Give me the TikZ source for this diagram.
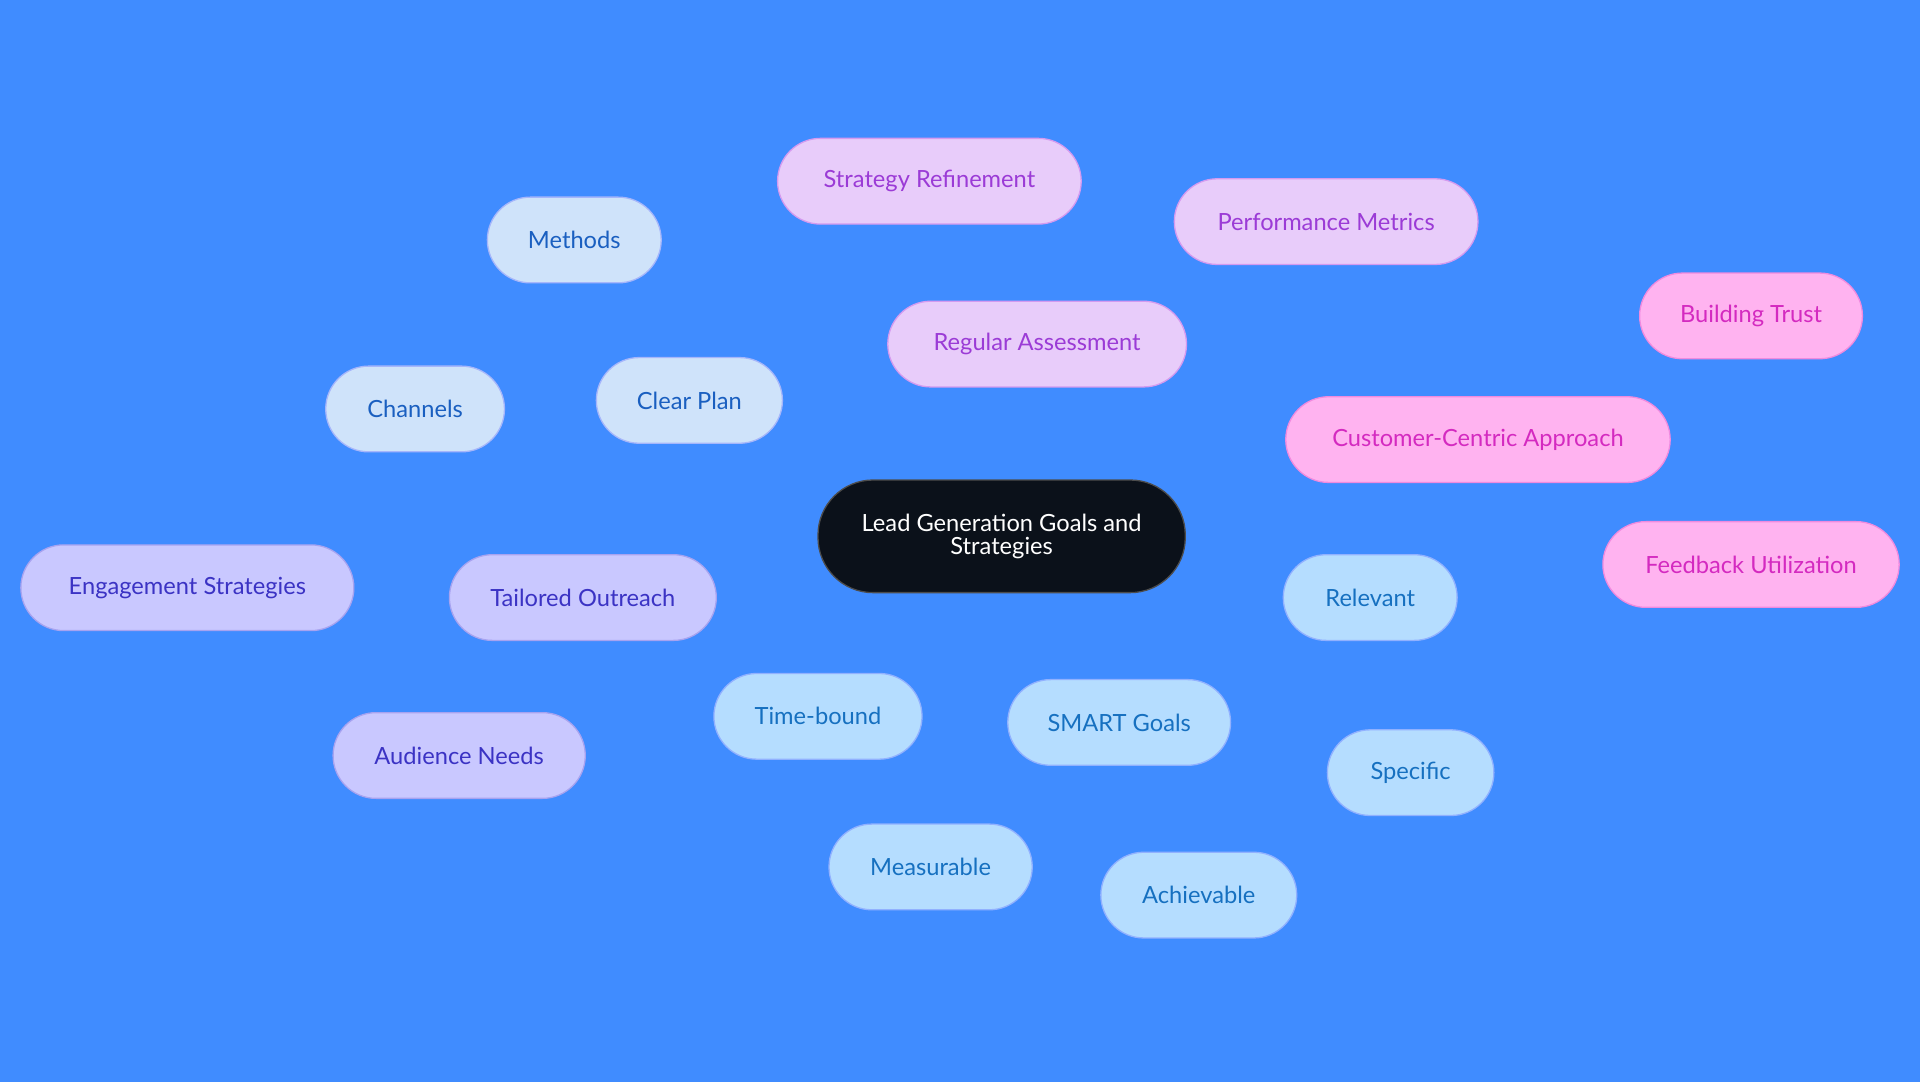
\documentclass[tikz,border=0pt]{standalone}
\usepackage{fontspec}
\setmainfont{Lato}
\usetikzlibrary{positioning}
\definecolor{bg}{HTML}{408CFF}
\definecolor{hub}{HTML}{0B111A}
\definecolor{planf}{HTML}{CFE3FA}\definecolor{plant}{HTML}{1A5FC0}
\definecolor{assf}{HTML}{E8CCFA}\definecolor{asst}{HTML}{9B3BD6}\definecolor{assl}{HTML}{D49AF0}
\definecolor{custf}{HTML}{FFB3F0}\definecolor{custt}{HTML}{D42AC0}\definecolor{custl}{HTML}{F08ADF}
\definecolor{smartf}{HTML}{B5DDFF}\definecolor{smartt}{HTML}{1670C0}
\definecolor{tailf}{HTML}{C9C8FF}\definecolor{tailt}{HTML}{3B33C4}\definecolor{taill}{HTML}{A7A3F0}
\tikzset{
  box/.style={rounded corners=0.7cm, minimum height=1.4cm, font=\fontsize{11}{13}\selectfont, align=center, draw=#1, line width=0.6pt},
  planbox/.style={box=planf!80!blue, fill=planf, text=plant},
  assbox/.style={box=assl, fill=assf, text=asst},
  custbox/.style={box=custl, fill=custf, text=custt},
  smartbox/.style={box=smartf!80!blue, fill=smartf, text=smartt},
  tailbox/.style={box=taill, fill=tailf, text=tailt},
  link/.style={line width=1.2pt}
}
\begin{document}
\begin{tikzpicture}[x=0.02cm, y=-0.02cm]
\fill[bg] (0,0) rectangle (1568,884);
\useasboundingbox (0,0) rectangle (1568,884);

%center
\node[box=black!70, fill=hub, text=white, minimum width=6cm, minimum height=1.84cm, rounded corners=0.9cm] (hub) at (818,438) {Lead Generation Goals and\\[-2pt]Strategies};

%clear plan
\node[planbox, minimum width=3.04cm] (plan) at (563,327) {Clear Plan};
\node[planbox, minimum width=2.84cm] (methods) at (469,196) {Methods};
\node[planbox, minimum width=2.92cm] (channels) at (339,334) {Channels};

%regular assessment
\node[assbox, minimum width=4.88cm] (assess) at (847,281) {Regular Assessment};
\node[assbox, minimum width=4.96cm] (refine) at (759,148) {Strategy Refinement};
\node[assbox, minimum width=4.96cm] (metrics) at (1083,181) {Performance Metrics};

%customer-centric
\node[custbox, minimum width=6.28cm] (cust) at (1207,359) {Customer-Centric Approach};
\node[custbox, minimum width=3.64cm] (trust) at (1430,258) {Building Trust};
\node[custbox, minimum width=4.84cm] (feedback) at (1430,461) {Feedback Utilization};

%smart goals
\node[smartbox, minimum width=3.64cm] (smart) at (914,590) {SMART Goals};
\node[smartbox, minimum width=2.84cm] (relevant) at (1119,488) {Relevant};
\node[smartbox, minimum width=2.72cm] (specific) at (1152,631) {Specific};
\node[smartbox, minimum width=3.2cm] (achievable) at (979,731) {Achievable};
\node[smartbox, minimum width=3.32cm] (measurable) at (760,708) {Measurable};
\node[smartbox, minimum width=3.4cm] (timebound) at (668,585) {Time-bound};

%tailored outreach
\node[tailbox, minimum width=4.36cm] (tailored) at (476,488) {Tailored Outreach};
\node[tailbox, minimum width=5.44cm] (engage) at (153,480) {Engagement Strategies};
\node[tailbox, minimum width=4.12cm] (audience) at (375,617) {Audience Needs};

\begin{scope}[on background layer/.try]
\end{scope}
\end{tikzpicture}
\end{document}
